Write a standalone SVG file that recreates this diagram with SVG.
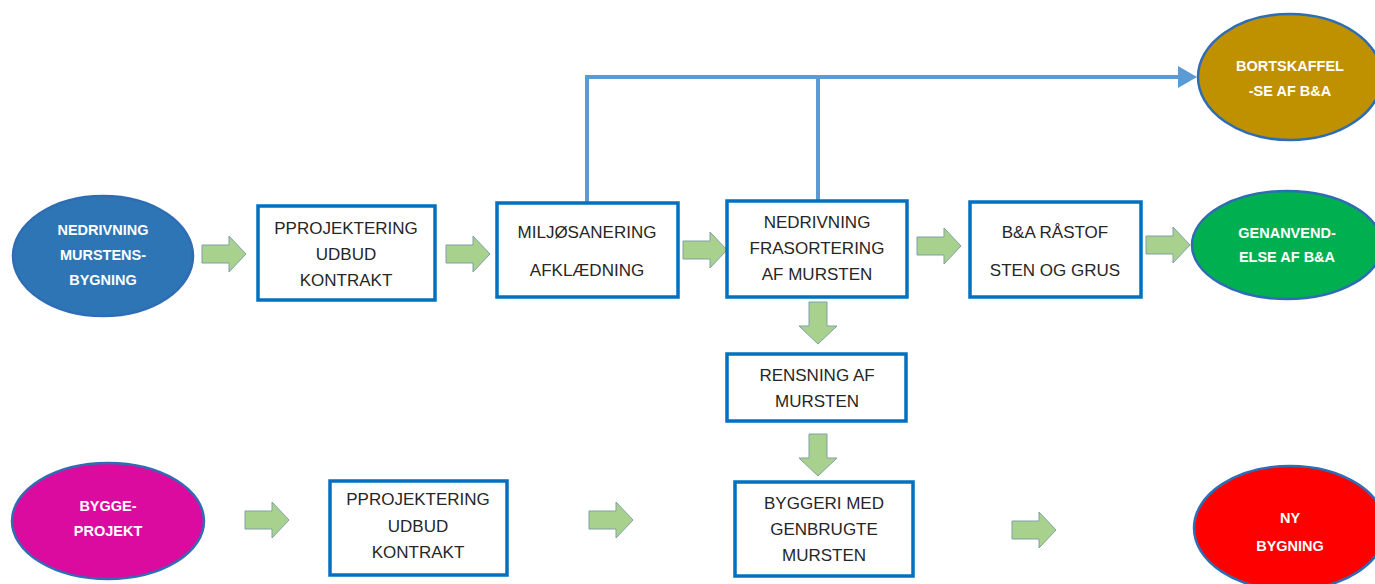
<svg xmlns="http://www.w3.org/2000/svg" xmlns:xlink="http://www.w3.org/1999/xlink" width="1375" height="584" viewBox="0 0 1375 584">
<style>
.box{fill:#fff;stroke:#0070C0;stroke-width:3.5}
.ell{stroke:#2E6DB4;stroke-width:2.5}
.bt{font-family:"Liberation Sans",Arial,sans-serif;font-size:17px;fill:#262626;text-anchor:middle}
.wt{font-family:"Liberation Sans",Arial,sans-serif;font-size:14.5px;font-weight:bold;fill:#fff;text-anchor:middle}
.ga{fill:#A9D18E;stroke:#7E9FA6;stroke-width:1}
.con{stroke:#5B9BD5;stroke-width:4;fill:none}
</style>
<defs>
<path id="ra" class="ga" d="M0,-9 H27 V-18 L44,0 L27,18 V9 H0 Z"/>
<path id="da" class="ga" d="M-9,0 V24 H-19 L0,42 L19,24 H9 V0 Z"/>
</defs>
<rect width="1375" height="584" fill="#fff"/>
<g id="connectors">
<path class="con" d="M587,203 V77 H1180"/>
<path class="con" d="M818,201 V77"/>
<polygon points="1178,66 1197,77 1178,88" fill="#5B9BD5"/>
<use href="#ra" x="202" y="254"/>
<use href="#ra" x="446" y="254"/>
<use href="#ra" x="683" y="250"/>
<use href="#ra" x="917" y="246"/>
<use href="#ra" x="1146" y="245"/>
<use href="#da" x="818" y="302"/>
<use href="#da" x="818" y="434"/>
<use href="#ra" x="245" y="520"/>
<use href="#ra" x="589" y="520"/>
<use href="#ra" x="1012" y="530"/>
</g>
<g id="n-nedrivning-bygning">
<ellipse class="ell" cx="103" cy="256" rx="90" ry="60" fill="#2E75B6"/>
<text class="wt" x="103" y="235">NEDRIVNING</text>
<text class="wt" x="103" y="260">MURSTENS-</text>
<text class="wt" x="103" y="285">BYGNING</text>
</g>
<g id="n-projektering1">
<rect class="box" x="258" y="206" width="177" height="94"/>
<text class="bt" x="346" y="234">PPROJEKTERING</text>
<text class="bt" x="346" y="260">UDBUD</text>
<text class="bt" x="346" y="286">KONTRAKT</text>
</g>
<g id="n-miljo">
<rect class="box" x="497" y="203" width="181" height="94"/>
<text class="bt" x="587" y="238">MILJØSANERING</text>
<text class="bt" x="587" y="276">AFKLÆDNING</text>
</g>
<g id="n-nedrivning-frasortering">
<rect class="box" x="727" y="201" width="180" height="96"/>
<text class="bt" x="817" y="228">NEDRIVNING</text>
<text class="bt" x="817" y="254">FRASORTERING</text>
<text class="bt" x="817" y="280">AF MURSTEN</text>
</g>
<g id="n-raastof">
<rect class="box" x="970" y="202" width="171" height="95"/>
<text class="bt" x="1055" y="238">B&amp;A RÅSTOF</text>
<text class="bt" x="1055" y="276">STEN OG GRUS</text>
</g>
<g id="n-genanvendelse">
<ellipse class="ell" cx="1287" cy="245" rx="95" ry="54" fill="#00B050"/>
<text class="wt" x="1287" y="238">GENANVEND-</text>
<text class="wt" x="1287" y="262">ELSE AF B&amp;A</text>
</g>
<g id="n-bortskaffelse">
<ellipse class="ell" cx="1290" cy="77" rx="92" ry="63" fill="#BF9000"/>
<text class="wt" x="1290" y="71">BORTSKAFFEL</text>
<text class="wt" x="1290" y="96">-SE AF B&amp;A</text>
</g>
<g id="n-rensning">
<rect class="box" x="727" y="354" width="179" height="67"/>
<text class="bt" x="817" y="381">RENSNING AF</text>
<text class="bt" x="817" y="407">MURSTEN</text>
</g>
<g id="n-byggeri">
<rect class="box" x="735" y="482" width="178" height="94"/>
<text class="bt" x="824" y="509">BYGGERI MED</text>
<text class="bt" x="824" y="535">GENBRUGTE</text>
<text class="bt" x="824" y="561">MURSTEN</text>
</g>
<g id="n-byggeprojekt">
<ellipse class="ell" cx="108" cy="521" rx="96" ry="58" fill="#DC0BA0"/>
<text class="wt" x="108" y="511">BYGGE-</text>
<text class="wt" x="108" y="536">PROJEKT</text>
</g>
<g id="n-projektering2">
<rect class="box" x="330" y="481" width="177" height="94"/>
<text class="bt" x="418" y="505">PPROJEKTERING</text>
<text class="bt" x="418" y="532">UDBUD</text>
<text class="bt" x="418" y="558">KONTRAKT</text>
</g>
<g id="n-ny-bygning">
<ellipse class="ell" cx="1290" cy="528" rx="96" ry="62" fill="#FF0000"/>
<text class="wt" x="1290" y="523">NY</text>
<text class="wt" x="1290" y="551">BYGNING</text>
</g>
</svg>
